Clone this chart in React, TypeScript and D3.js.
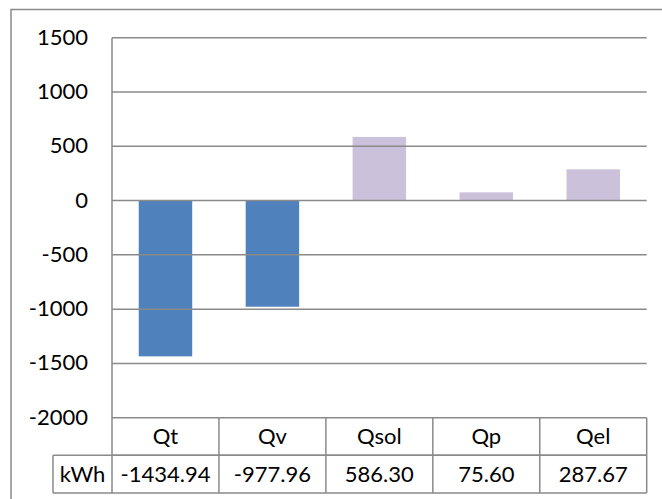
import React from "react";
import * as d3 from "d3";

const categories = ["Qt", "Qv", "Qsol", "Qp", "Qel"];
const values = [-1434.94, -977.96, 586.3, 75.6, 287.67];
const valueLabels = ["-1434.94", "-977.96", "586.30", "75.60", "287.67"];
const yTicks = [1500, 1000, 500, 0, -500, -1000, -1500, -2000];
const unitLabel = "kWh";

const W = 662;
const H = 499;
const plotLeft = 112;
const plotRight = 646.7;
const plotTop = 37.7;
const plotBottom = 417.7;
const rowH = 37.6;
const tableLeft = 53;
const grid = "#8a8a8a";
const font = "Lato, 'Liberation Sans', sans-serif";
const fs = 22;

export default function App() {
  const y = d3.scaleLinear().domain([-2000, 1500]).range([plotBottom, plotTop]);
  const x = d3
    .scaleBand<string>()
    .domain(categories)
    .range([plotLeft, plotRight])
    .paddingInner(0.5)
    .paddingOuter(0.25);
  const step = x.step();
  const colLeft = (i: number) => plotLeft + i * step;
  const r1 = plotBottom;
  const r2 = plotBottom + rowH;
  const r3 = plotBottom + 2 * rowH;

  return (
    <svg
      width={W}
      height={H}
      style={{ position: "absolute", left: 0, top: 0, background: "#fff" }}
      fontFamily={font}
    >
      <rect x={0} y={0} width={W} height={H} fill="#fff" />
      <rect x={11} y={9.5} width={W + 20} height={H + 20} fill="none" stroke={grid} strokeWidth={1.5} />
      {/* bars */}
      {values.map((v, i) => (
        <rect
          key={categories[i]}
          x={x(categories[i])}
          width={x.bandwidth()}
          y={Math.min(y(v), y(0))}
          height={Math.abs(y(v) - y(0))}
          fill={v < 0 ? "#4F81BD" : "#CCC1DA"}
        />
      ))}
      {/* gridlines */}
      {yTicks.map((t) => (
        <line key={t} x1={plotLeft} x2={plotRight} y1={y(t)} y2={y(t)} stroke={grid} strokeWidth={1.5} />
      ))}
      {/* axis */}
      <line x1={plotLeft} x2={plotLeft} y1={plotTop} y2={r3} stroke={grid} strokeWidth={1.5} />
      {yTicks.map((t) => (
        <text key={"l" + t} x={88} y={y(t) + 7} textAnchor="end" fontSize={fs} fill="#000">
          {t}
        </text>
      ))}
      {/* table */}
      <line x1={plotLeft} x2={plotRight} y1={r2} y2={r2} stroke={grid} strokeWidth={1.5} />
      <line x1={tableLeft} x2={plotRight} y1={r2} y2={r2} stroke={grid} strokeWidth={1.5} />
      <line x1={tableLeft} x2={plotRight} y1={r3} y2={r3} stroke={grid} strokeWidth={1.5} />
      <line x1={tableLeft} x2={tableLeft} y1={r2} y2={r3} stroke={grid} strokeWidth={1.5} />
      {categories.map((c, i) => (
        <line key={"v" + c} x1={colLeft(i + 1)} x2={colLeft(i + 1)} y1={r1} y2={r3} stroke={grid} strokeWidth={1.5} />
      ))}
      {categories.map((c, i) => (
        <text key={"h" + c} x={colLeft(i) + step / 2} y={r1 + rowH / 2 + 7.5} textAnchor="middle" fontSize={fs} fill="#000">
          {c}
        </text>
      ))}
      {valueLabels.map((s, i) => (
        <text key={"d" + i} x={colLeft(i) + step / 2} y={r2 + rowH / 2 + 7.5} textAnchor="middle" fontSize={fs} fill="#000">
          {s}
        </text>
      ))}
      <text x={(tableLeft + plotLeft) / 2} y={r2 + rowH / 2 + 7.5} textAnchor="middle" fontSize={fs} fill="#000">
        {unitLabel}
      </text>
    </svg>
  );
}
